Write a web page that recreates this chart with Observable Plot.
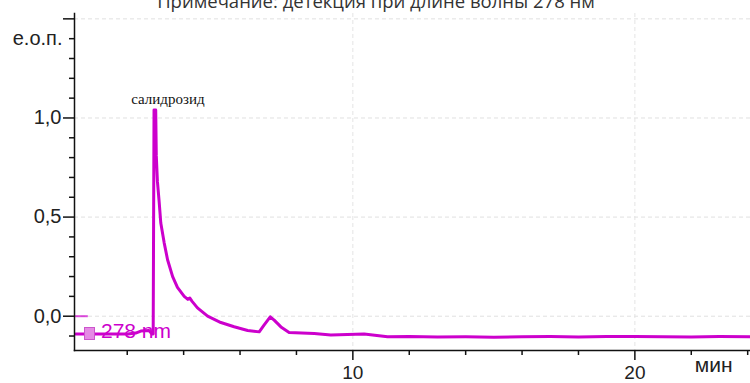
<!DOCTYPE html>
<html>
<head>
<meta charset="utf-8">
<script src="https://cdn.jsdelivr.net/npm/d3@7"></script>
<script src="https://cdn.jsdelivr.net/npm/@observablehq/plot@0.6"></script>
<style>
  html, body { margin: 0; padding: 0; background: #fff; }
  #wrap { position: relative; width: 750px; height: 383px; overflow: hidden; }
  #title { position: absolute; top: -12px; left: 0; width: 752px; text-align: center;
           font-family: "Open Sans", sans-serif; font-size: 18.5px; color: #333; white-space: nowrap; }
  #legend { position: absolute; left: 84px; top: 319px; display: flex; align-items: center;
            font-family: "Liberation Sans", Arial, sans-serif; font-size: 21px; color: #cc00cc; }
  #legend .sw { width: 9px; height: 11px; background: #e58ae5; border: 1px solid #cc55cc; margin-right: 6px; margin-top: 4px; }
</style>
</head>
<body>
<div id="wrap">
  <div id="chart"></div>
  <div id="title">Примечание: детекция при длине волны 278 нм</div>
  <div id="legend"><span class="sw"></span><span>278 nm</span></div>
</div>
<script>
// Chromatogram (retention time, min) and absorbance (е.о.п.)
const times = [0.17, 1.0, 2.02, 2.3, 2.48, 2.77, 2.88, 2.92, 2.95, 3.01, 3.03, 3.07, 3.13, 3.19, 3.31, 3.43, 3.61, 3.78, 4.02, 4.15, 4.22, 4.3, 4.49, 4.85, 5.32, 5.79, 6.27, 6.68, 6.85, 7.07, 7.21, 7.45, 7.74, 8.63, 9.22, 10.4, 11.23, 12, 13, 14, 15, 16, 17, 18, 19, 20, 21, 22, 23, 24.1];
const absorb = [-0.09, -0.09, -0.09, -0.085, -0.075, -0.072, -0.09, -0.09, 1.04, 1.04, 0.81, 0.68, 0.58, 0.47, 0.37, 0.285, 0.2, 0.145, 0.1, 0.085, 0.092, 0.075, 0.042, 0.0, -0.032, -0.053, -0.072, -0.079, -0.045, -0.003, -0.02, -0.054, -0.082, -0.087, -0.095, -0.09, -0.104, -0.102, -0.105, -0.104, -0.106, -0.104, -0.103, -0.105, -0.102, -0.103, -0.104, -0.105, -0.103, -0.104];

const peakLabels = ["салидрозид"];
const peakTimes = [2.98];
const peakValues = [1.04];

const yMajor = [0, 0.5, 1.0, 1.5];
const yTickLabels = ["0,0", "0,5", "1,0", ""];
const yMinor = [-0.1, 0.1, 0.2, 0.3, 0.4, 0.6, 0.7, 0.8, 0.9, 1.1, 1.2, 1.3, 1.4];
const xMajor = [10, 20];
const xTickLabels = ["10", "20"];
const xMinor = [2, 4, 6, 8, 12, 14, 16, 18, 22, 24];
const yGrid = [0, 0.5, 1.0, 1.5];
const xGrid = [10, 20];
const zeroMarkerX = [0.167, 0.62];

const data = times.map((t, i) => ({t, v: absorb[i]}));
const peaks = peakLabels.map((label, i) => ({label, t: peakTimes[i], v: peakValues[i]}));

const magenta = "#cc00cc";
const chart = Plot.plot({
  width: 750,
  height: 383,
  marginLeft: 74,
  marginRight: 0,
  marginTop: 13,
  marginBottom: 33,
  x: {domain: [0.13, 24.1]},
  y: {domain: [-0.173, 1.527]},
  style: {fontFamily: "'Liberation Sans', Arial, sans-serif", fontSize: "18px", color: "#222", background: "white", overflow: "visible"},
  marks: [
    Plot.gridY(yGrid, {stroke: "#e0e0e0", strokeOpacity: 1, strokeDasharray: "4,3"}),
    Plot.gridX(xGrid, {stroke: "#e4e4e4", strokeOpacity: 1, strokeDasharray: "4,3"}),
    Plot.ruleY([0], {x1: zeroMarkerX[0], x2: zeroMarkerX[1], stroke: magenta, strokeWidth: 2, strokeOpacity: 0.7}),
    Plot.line(data, {x: "t", y: "v", stroke: magenta, strokeWidth: 3, curve: "linear"}),
    Plot.text(peaks, {x: "t", y: "v", text: "label", dx: 13, dy: -11, fontFamily: "'Liberation Serif', 'Times New Roman', serif", fontSize: 15, fill: "#111"}),
    Plot.axisY(yMinor, {tickSize: 5, tickFormat: () => "", label: null, strokeWidth: 1.5, stroke: "#111"}),
    Plot.axisY(yMajor, {tickSize: 11, tickPadding: 2, tickFormat: d => yTickLabels[yMajor.indexOf(d)], label: null, fontSize: 20, strokeWidth: 1.5, stroke: "#111", fill: "#222"}),
    Plot.axisX(xMinor, {tickSize: 5, tickFormat: () => "", label: null, strokeWidth: 1.5, stroke: "#111"}),
    Plot.axisX(xMajor, {tickSize: 10, tickPadding: 5, tickFormat: d => xTickLabels[xMajor.indexOf(d)], label: null, fontSize: 19, strokeWidth: 1.5, stroke: "#111", fill: "#222"}),
    Plot.frame({anchor: "left", stroke: "#111", strokeWidth: 1.5}),
    Plot.frame({anchor: "bottom", stroke: "#111", strokeWidth: 1.5}),
    Plot.text(["е.о.п."], {frameAnchor: "top-left", textAnchor: "end", dx: -12, dy: 17, fontSize: 20, fill: "#222"}),
    Plot.text(["мин"], {frameAnchor: "bottom-right", textAnchor: "end", dx: -18, dy: 21, fontSize: 21, fill: "#222"})
  ]
});
document.getElementById("chart").appendChild(chart);
</script>
</body>
</html>
